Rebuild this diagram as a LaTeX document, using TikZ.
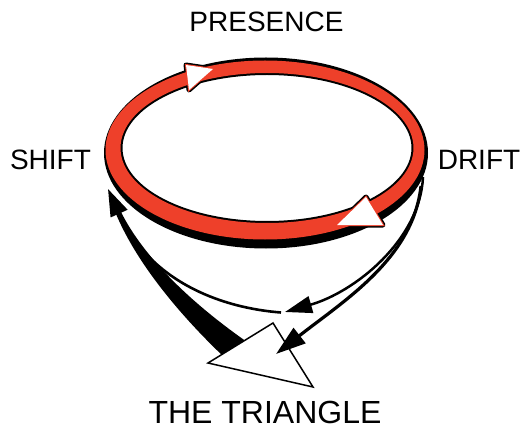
\documentclass[tikz,border=0pt]{standalone}
\usepackage{fontspec}
\setmainfont{Liberation Sans}
\usetikzlibrary{arrows.meta}
\definecolor{ringred}{RGB}{238,64,42}
\tikzset{
  lbl/.style={inner sep=0pt,font=\fontsize{28}{30}\selectfont},
  conn/.style={draw=black,line width=2.6pt},
}
\begin{document}
\begin{tikzpicture}[x=1pt,y=-1pt]
    \useasboundingbox (0,0) rectangle (526,430);
    \node[lbl] (presence) at (266.5,22) {PRESENCE};
    \node[lbl] (shift) at (50.5,160) {SHIFT};
    \node[lbl] (drift) at (479,160) {DRIFT};
    \node[lbl,font=\fontsize{32}{34}\selectfont] (title) at (265,412) {THE TRIANGLE};
    \coordinate (ra1) at (186,65);  \coordinate (ra2) at (189,90);  \coordinate (ra3) at (213,69);
    \coordinate (rb1) at (366,197); \coordinate (rb2) at (383,225); \coordinate (rb3) at (337,225);
    \coordinate (t1) at (208,363); \coordinate (t2) at (273,323); \coordinate (t3) at (313,387);
    \coordinate (driftA) at (423,177); \coordinate (driftB) at (421,186);
    \coordinate (midtip) at (285,312); \coordinate (midtail) at (281,312.5);
    \coordinate (shifttip) at (108,189); \coordinate (tritip) at (276,354);
    \coordinate (wedgeL) at (224,357); \coordinate (wedgeR) at (247,342);
    \fill[black,even odd rule] (266,153) ellipse [x radius=162,y radius=95.5]
        (267,148) ellipse [x radius=146.5,y radius=75];
    \draw[black,line width=4pt] (267,148) ellipse [x radius=146.5,y radius=75];
    \filldraw[black,line width=5pt,line join=round] (ra1)--(ra2)--(ra3)--cycle (rb1)--(rb2)--(rb3)--cycle;
    \fill[ringred,even odd rule] (265,150) ellipse [x radius=159.5,y radius=89.5]
        (267,148) ellipse [x radius=146.5,y radius=75];
    \filldraw[fill=ringred,draw=ringred,line width=2pt] (ra1)--(ra2)--(ra3)--cycle (rb1)--(rb2)--(rb3)--cycle;
    \fill[white] (ra1)--(ra2)--(ra3)--cycle (rb1)--(rb2)--(rb3)--cycle;
    \fill[black] (wedgeL) .. controls (183,318) and (138,266) .. (116,214) -- (121,212)
        .. controls (140,250) and (180,295) .. (wedgeR) -- cycle;
    \filldraw[fill=white,draw=black,line width=1.5pt] (t1)--(t2)--(t3)--cycle;
    \draw[conn,-{Triangle[length=27pt,width=18pt]}] (midtail) .. controls (222,308) and (150,282) .. (shifttip);
    \draw[conn,line width=2.5pt,-{Triangle[length=27pt,width=17pt]}] (driftA) .. controls (420,240) and (355,292) .. (midtip);
    \draw[conn,line width=3.2pt,-{Triangle[length=30pt,width=19pt]}] (driftB) .. controls (413,258) and (345,300) .. (tritip);
\end{tikzpicture}
\end{document}
